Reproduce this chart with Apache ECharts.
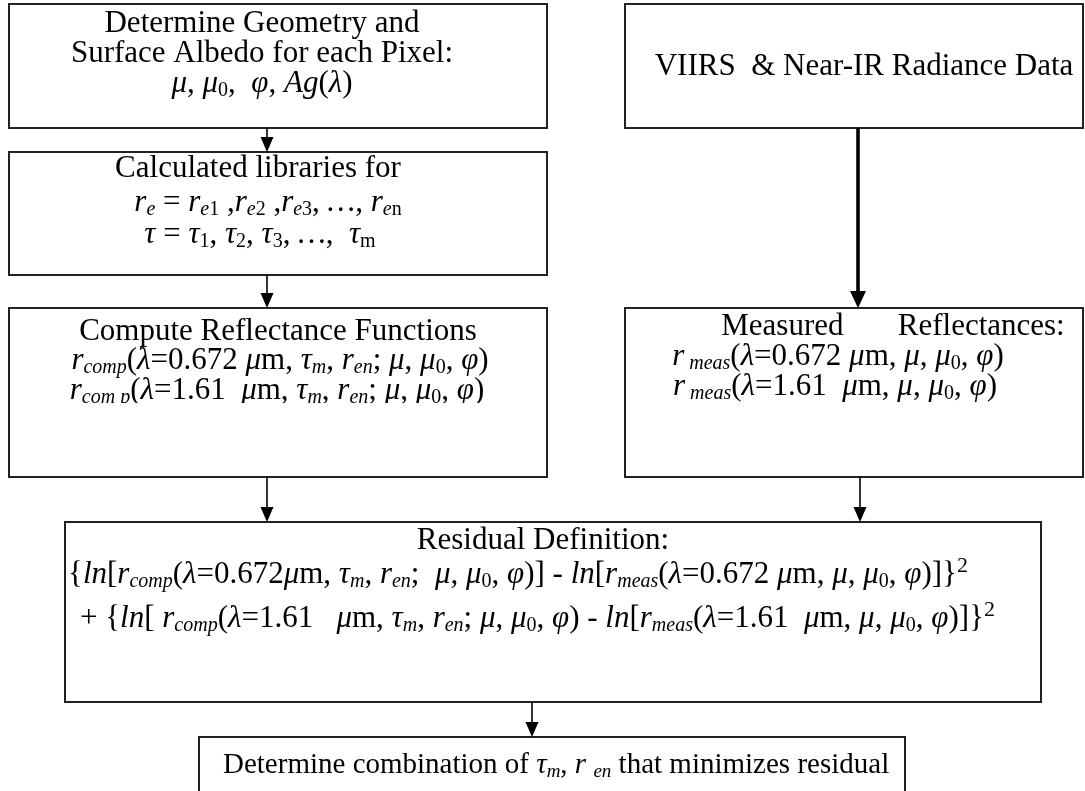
<!DOCTYPE html>
<html>
<head>
<meta charset="utf-8">
<script src="https://cdn.jsdelivr.net/npm/echarts@6/dist/echarts.min.js"></script>
<style>
html,body{margin:0;padding:0;background:#fff;}
#chart{width:1085px;height:791px;}
</style>
</head>
<body>
<div id="chart"></div>
<script>
// ---- text content of each box (rich-text markup: {i|..} italic, {s|..} italic subscript, {sn|..} roman subscript, {sup|..} superscript)
var geometryLines = [
  'Determine Geometry and',
  'Surface Albedo for each Pixel:',
  '{i|μ}, {i|μ}{sn|0},  {i|φ}, {i|Ag}({i|λ})'
];
var libraryLines = [
  'Calculated libraries for',
  '{i|r}{s|e} = {i|r}{s|e}{sn|1} ,{i|r}{s|e}{sn|2} ,{i|r}{s|e}{sn|3}, {i|…}, {i|r}{s|e}{sn|n}',
  '{i|τ} = {i|τ}{sn|1}, {i|τ}{sn|2}, {i|τ}{sn|3}, {i|…},  {i|τ}{sn|m}'
];
var computeLines = [
  'Compute Reflectance Functions',
  '{i|r}{s|comp}({i|λ}=0.672 {i|μ}m, {i|τ}{s|m}, {i|r}{s|en}; {i|μ}, {i|μ}{sn|0}, {i|φ})',
  '{i|r}{s|com p}({i|λ}=1.61  {i|μ}m, {i|τ}{s|m}, {i|r}{s|en}; {i|μ}, {i|μ}{sn|0}, {i|φ})'
];
var radianceLines = ['VIIRS  & Near-IR Radiance Data'];
var measuredLines = [
  'Measured       Reflectances:',
  '{i|r}{s| meas}({i|λ}=0.672 {i|μ}m, {i|μ}, {i|μ}{sn|0}, {i|φ})',
  '{i|r}{s| meas}({i|λ}=1.61  {i|μ}m, {i|μ}, {i|μ}{sn|0}, {i|φ})'
];
var residualLines = [
  'Residual Definition:',
  '{{i|ln}[{i|r}{s|comp}({i|λ}=0.672{i|μ}m, {i|τ}{s|m}, {i|r}{s|en};  {i|μ}, {i|μ}{sn|0}, {i|φ})] - {i|ln}[{i|r}{s|meas}({i|λ}=0.672 {i|μ}m, {i|μ}, {i|μ}{sn|0}, {i|φ})]}{sup|2}',
  '+ {{i|ln}[ {i|r}{s|comp}({i|λ}=1.61   {i|μ}m, {i|τ}{s|m}, {i|r}{s|en}; {i|μ}, {i|μ}{sn|0}, {i|φ}) - {i|ln}[{i|r}{s|meas}({i|λ}=1.61  {i|μ}m, {i|μ}, {i|μ}{sn|0}, {i|φ})]}{sup|2}'
];
var resultLines = ['Determine combination of {i|τ}{s|m}, {i|r} {s|en} that minimizes residual'];

// ---- layout (pixels)
var FONT = 'Liberation Serif';
var boxes = [
  {x: 9,   y: 4,   w: 538, h: 124},
  {x: 9,   y: 152, w: 538, h: 123},
  {x: 9,   y: 308, w: 538, h: 169},
  {x: 625, y: 4,   w: 458, h: 124},
  {x: 625, y: 308, w: 458, h: 169},
  {x: 65,  y: 522, w: 976, h: 180},
  {x: 199, y: 737, w: 706, h: 80}
];
// strips where the last text line of a box is cut off
var cuts = [
  {x: 10,  y: 403, w: 536, h: 16},
  {x: 626, y: 403, w: 456, h: 16}
];
var arrows = [
  {x: 267, y1: 128, y2: 152, w: 1.6},
  {x: 267, y1: 275, y2: 308, w: 1.6},
  {x: 858, y1: 128, y2: 308, w: 3.6},
  {x: 267, y1: 477, y2: 522, w: 1.6},
  {x: 860, y1: 477, y2: 522, w: 1.6},
  {x: 532, y1: 702, y2: 737, w: 1.6}
];
var placements = [
  {lines: geometryLines, fs: 31, pos: [[262, 24, 'center'], [262, 54, 'center'], [262, 84, 'center']]},
  {lines: libraryLines,  fs: 31, pos: [[258, 169, 'center'], [268, 203, 'center'], [260, 235, 'center']]},
  {lines: computeLines,  fs: 31, pos: [[278, 332, 'center'], [280, 361, 'center'], [277, 391, 'center']]},
  {lines: radianceLines, fs: 31, pos: [[864, 67, 'center']]},
  {lines: measuredLines, fs: 31, pos: [[893, 327, 'center'], [838, 357, 'center'], [835, 387, 'center']]},
  {lines: residualLines, fs: 31, pos: [[543, 541, 'center'], [68, 575, 'left'], [80, 619, 'left']]},
  {lines: resultLines,   fs: 29, pos: [[223, 765, 'left']]}
];

function richFor(fs) {
  var sub = Math.round(fs * 0.65);
  return {
    i:   {fontFamily: FONT, fontSize: fs, fontStyle: 'italic', fill: '#000', lineHeight: 34},
    s:   {fontFamily: FONT, fontSize: sub, fontStyle: 'italic', fill: '#000', lineHeight: 34, padding: [Math.round(fs * 0.45), 0, 0, 0]},
    sn:  {fontFamily: FONT, fontSize: sub, fontStyle: 'normal', fill: '#000', lineHeight: 34, padding: [Math.round(fs * 0.45), 0, 0, 0]},
    sup: {fontFamily: FONT, fontSize: Math.round(fs * 0.7), fontStyle: 'normal', fill: '#000', lineHeight: 34, padding: [0, 0, Math.round(fs * 0.58), 0]}
  };
}

var elements = [];
boxes.forEach(function (b) {
  elements.push({
    type: 'rect',
    shape: {x: b.x, y: b.y, width: b.w, height: b.h},
    style: {fill: '#fff', stroke: '#222', lineWidth: 2}
  });
});
arrows.forEach(function (a) {
  var hw = a.w > 2 ? 8 : 6.5, hh = a.w > 2 ? 17 : 15;
  elements.push({
    type: 'line',
    shape: {x1: a.x, y1: a.y1, x2: a.x, y2: a.y2 - hh + 1},
    style: {stroke: '#000', lineWidth: a.w}
  });
  elements.push({
    type: 'polygon',
    shape: {points: [[a.x - hw, a.y2 - hh], [a.x + hw, a.y2 - hh], [a.x, a.y2]]},
    style: {fill: '#000'}
  });
});
placements.forEach(function (p) {
  var rich = richFor(p.fs);
  p.lines.forEach(function (t, k) {
    var ps = p.pos[k];
    elements.push({
      type: 'text',
      x: ps[0], y: ps[1],
      style: {
        text: t, fontFamily: FONT, fontSize: p.fs, fontStyle: 'normal', fill: '#000',
        lineHeight: 34, align: ps[2], verticalAlign: 'middle', rich: rich
      }
    });
  });
});
cuts.forEach(function (c) {
  elements.push({
    type: 'rect',
    shape: {x: c.x, y: c.y, width: c.w, height: c.h},
    style: {fill: '#fff'}
  });
});

var chart = echarts.init(document.getElementById('chart'), null, {renderer: 'canvas'});
chart.setOption({
  backgroundColor: '#fff',
  animation: false,
  graphic: {elements: elements}
});
</script>
</body>
</html>
